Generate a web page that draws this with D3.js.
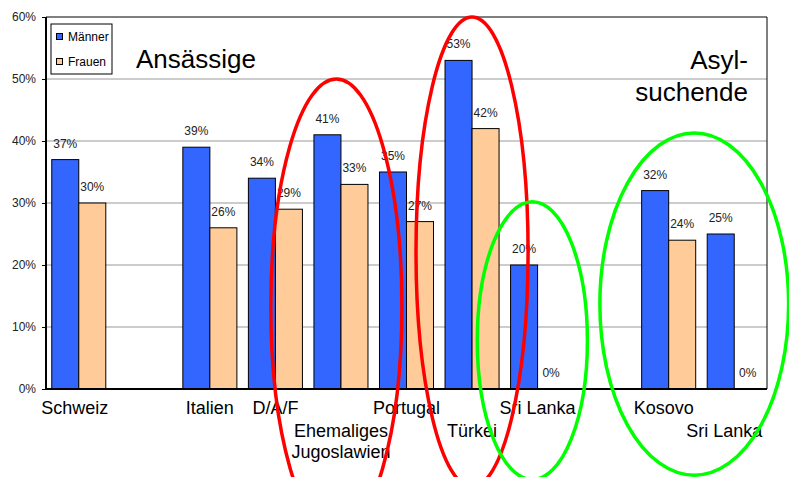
<!DOCTYPE html>
<html>
<head>
<meta charset="utf-8">
<script src="https://cdn.jsdelivr.net/npm/d3@7"></script>
<style>
  body { margin: 0; background: #fff; }
  svg { display: block; font-family: Arial, "Liberation Sans", sans-serif; }
</style>
</head>
<body>
<svg id="chart" width="789" height="477"></svg>
<script>
// Anteile (%) pro Herkunftsgruppe, leere Kategorien = Lücken
let categories = ["Schweiz", "", "Italien", "D/A/F", "Ehemaliges\nJugoslawien", "Portugal", "Türkei", "Sri Lanka", "", "Kosovo", "Sri Lanka"];
let maenner = [37, null, 39, 34, 41, 35, 53, 20, null, 32, 25];
let frauen  = [30, null, 26, 29, 33, 27, 42, 0, null, 24, 0];
let seriesNames = ["Männer", "Frauen"];
let seriesColors = ["#3366ff", "#ffcc99"];
let yTicks = [0, 10, 20, 30, 40, 50, 60];

let svg = d3.select("#chart"),
    pLeft = 46, pRight = 767, pTop = 17, pBottom = 389;

let slots = d3.range(categories.length);

let xScale = d3.scaleBand().domain(slots).range([pLeft, pRight]),
    xInner = d3.scaleBand().domain(seriesNames).range([0, xScale.bandwidth()]).paddingOuter(0.213),
    xPos = d3.scaleLinear().domain([0, categories.length]).range([pLeft, pRight]),
    yScale = d3.scaleLinear().domain([0, 60]).range([pBottom, pTop]);

// gridlines
svg.append("g")
    .selectAll("line")
    .data(yTicks.filter(d => d > 0 && d < 60))
    .enter()
    .append("line")
    .attr("x1", pLeft).attr("x2", pRight)
    .attr("y1", d => yScale(d)).attr("y2", d => yScale(d))
    .attr("stroke", "#999")
    .attr("stroke-width", 1);

// frame top / right
svg.append("path")
    .attr("d", `M${pLeft},${pTop}H${pRight}V${pBottom}`)
    .attr("fill", "none")
    .attr("stroke", "#000")
    .attr("stroke-width", 1);

// bars
let rows = [];
slots.forEach(i => {
    [maenner, frauen].forEach((vals, s) => {
        if (vals[i] != null) rows.push({slot: i, s: s, value: vals[i]});
    });
});

svg.append("g")
    .selectAll("rect")
    .data(rows.filter(d => d.value > 0))
    .enter()
    .append("rect")
    .attr("x", d => xScale(d.slot) + xInner(seriesNames[d.s]))
    .attr("y", d => yScale(d.value))
    .attr("width", xInner.bandwidth())
    .attr("height", d => yScale(0) - yScale(d.value))
    .attr("fill", d => seriesColors[d.s])
    .attr("stroke", "#000")
    .attr("stroke-width", 1);

svg.append("g")
    .selectAll("text")
    .data(rows)
    .enter()
    .append("text")
    .attr("x", d => xScale(d.slot) + xInner(seriesNames[d.s]) + xInner.bandwidth() / 2)
    .attr("y", d => yScale(d.value) - 12)
    .attr("text-anchor", "middle")
    .style("font-size", "12px")
    .style("fill", "#222")
    .text(d => d.value + "%");

// y axis
let yAxis = svg.append("g")
    .attr("transform", `translate(${pLeft},0)`)
    .call(d3.axisLeft(yScale).tickValues(yTicks).tickSize(4).tickPadding(6).tickFormat(d => d + "%"));
yAxis.select(".domain").remove();
yAxis.selectAll("text").style("font-size", "12px").style("fill", "#222").attr("font-family", null);
yAxis.selectAll("line").attr("stroke", "#000");

svg.append("line")
    .attr("x1", pLeft).attr("x2", pLeft)
    .attr("y1", pTop).attr("y2", pBottom + 1)
    .attr("stroke", "#000").attr("stroke-width", 2);
svg.append("line")
    .attr("x1", pLeft).attr("x2", pRight)
    .attr("y1", pBottom).attr("y2", pBottom)
    .attr("stroke", "#000").attr("stroke-width", 2);

// category labels, staggered in two rows
let secondRow = new Set([4, 6, 10]);
let nudge = {0: -4, 9: -5, 10: -10};
let xl = svg.append("g")
    .selectAll("text")
    .data(slots.filter(i => categories[i] !== ""))
    .enter()
    .append("text")
    .attr("text-anchor", "middle")
    .style("font-size", "18px")
    .attr("y", i => secondRow.has(i) ? 437 : 414);
xl.each(function(i) {
    let cx = xScale(i) + xScale.bandwidth() / 2 + (nudge[i] || 0);
    categories[i].split("\n").forEach((t, k) => {
        d3.select(this).append("tspan")
            .attr("x", cx)
            .attr("dy", k === 0 ? 0 : 21)
            .text(t);
    });
});

// titles
svg.append("text")
    .attr("x", 136).attr("y", 68)
    .style("font-size", "26px")
    .text("Ansässige");
svg.append("text")
    .attr("x", 748).attr("y", 69)
    .attr("text-anchor", "end")
    .style("font-size", "26px")
    .text("Asyl-");
svg.append("text")
    .attr("x", 748).attr("y", 101)
    .attr("text-anchor", "end")
    .style("font-size", "26px")
    .text("suchende");

// legend
let legend = svg.append("g").attr("transform", "translate(51,24)");
legend.append("rect")
    .attr("width", 61).attr("height", 50)
    .attr("fill", "#fff").attr("stroke", "#000").attr("stroke-width", 1);
seriesNames.forEach((name, i) => {
    legend.append("rect")
        .attr("x", 5.5).attr("y", 9.5 + i * 25)
        .attr("width", 6).attr("height", 6)
        .attr("fill", seriesColors[i]).attr("stroke", "#000").attr("stroke-width", 1);
    legend.append("text")
        .attr("x", 17).attr("y", 17 + i * 25)
        .style("font-size", "12px")
        .text(name);
});

// hand-drawn highlight ellipses (slot position, half width in slots, top / bottom in %)
let highlights = [
    {c: 4.43, r: 1.0,  top: 50,   bot: -23.5, color: "#ff0000"},
    {c: 6.5,  r: 0.855, top: 60,  bot: -15.8, color: "#ff0000"},
    {c: 7.42, r: 0.84, top: 30.2, bot: -14.6, color: "#00ff00"},
    {c: 9.89, r: 1.44, top: 41.3, bot: -13.9, color: "#00ff00"}
];
svg.append("g")
    .selectAll("ellipse")
    .data(highlights)
    .enter()
    .append("ellipse")
    .attr("cx", d => xPos(d.c))
    .attr("cy", d => (yScale(d.top) + yScale(d.bot)) / 2)
    .attr("rx", d => xPos(d.r) - xPos(0))
    .attr("ry", d => (yScale(d.bot) - yScale(d.top)) / 2)
    .attr("fill", "none")
    .attr("stroke", d => d.color)
    .attr("stroke-width", 3.5);
</script>
</body>
</html>
